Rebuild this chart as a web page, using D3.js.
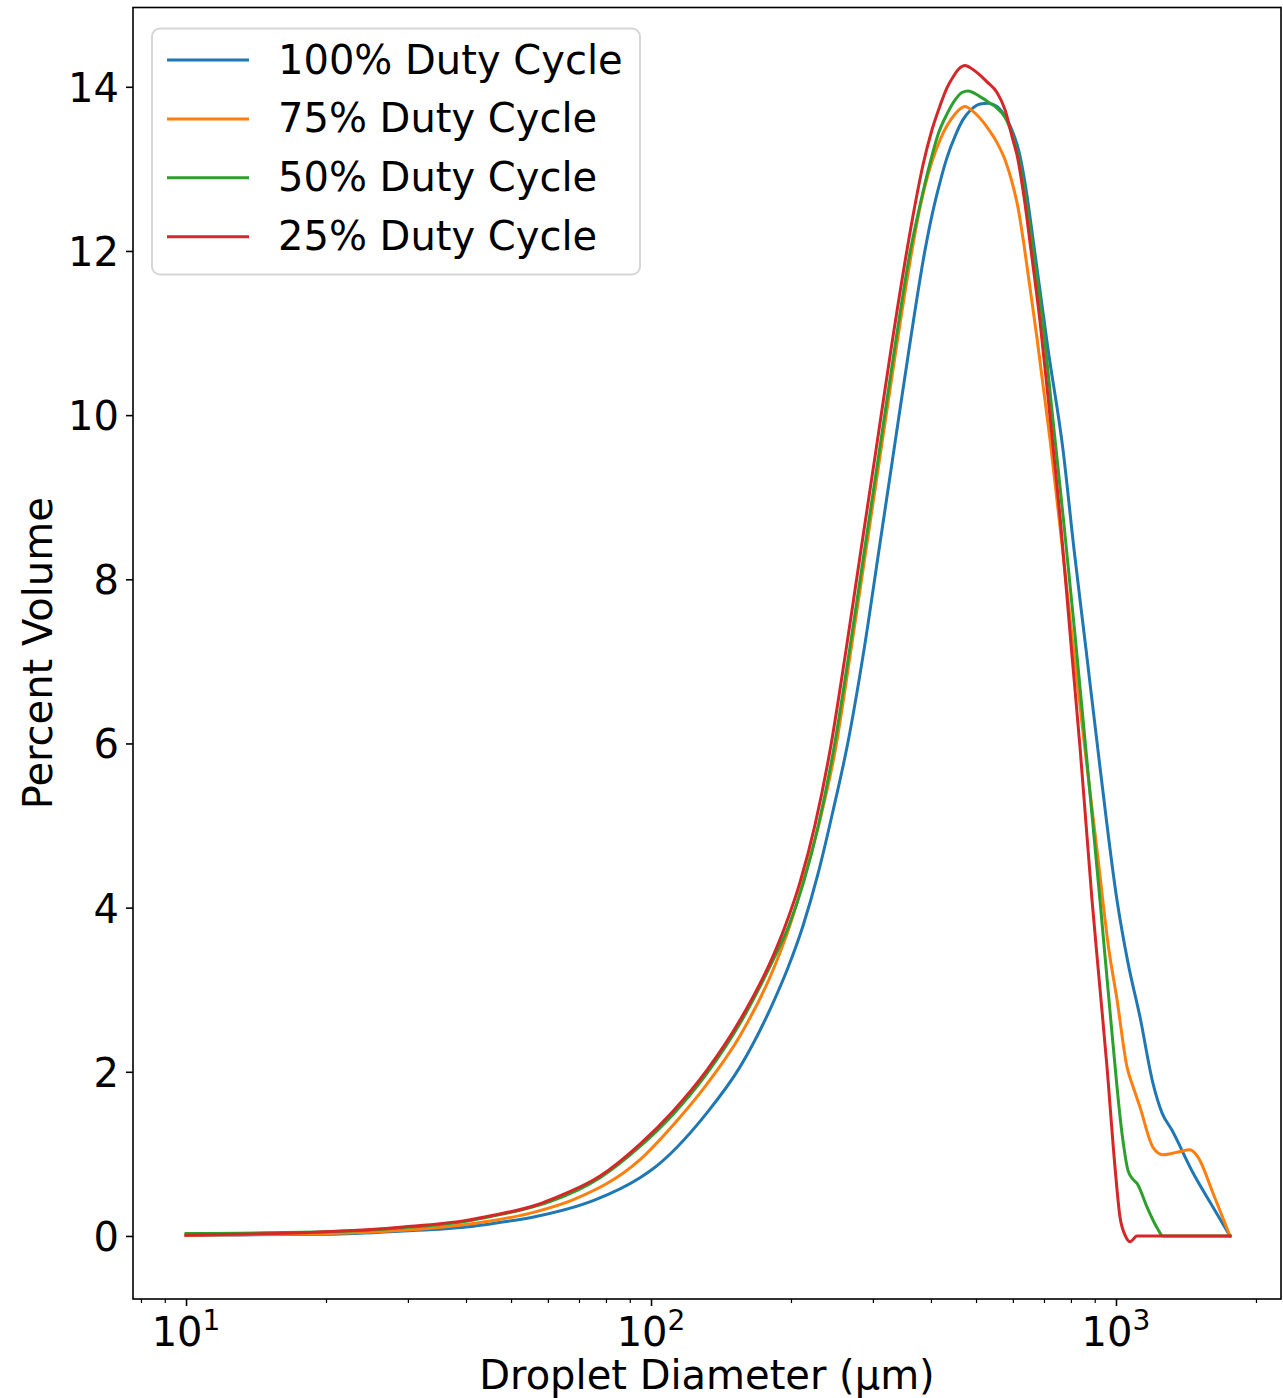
<!DOCTYPE html>
<html>
<head>
<meta charset="utf-8">
<script src="https://cdn.jsdelivr.net/npm/d3@7"></script>
<style>
  html, body { margin: 0; padding: 0; background: #ffffff; }
  svg { display: block; font-family: "DejaVu Sans", sans-serif; }
</style>
</head>
<body>
<svg id="chart" width="1283" height="1398"></svg>
<script>
// Droplet size distributions: [diameter (µm), percent volume]
const seriesNames = ["100% Duty Cycle", "75% Duty Cycle", "50% Duty Cycle", "25% Duty Cycle"];

const duty100 = [
  [10, 0.01], [20, 0.02], [29.3, 0.06], [40, 0.11], [45.5, 0.15], [56.9, 0.24],
  [75.8, 0.44], [94.7, 0.71], [100, 0.80], [131.9, 1.50], [155.4, 2.06], [183, 2.84],
  [197.1, 3.27], [212.3, 3.78], [228.6, 4.41], [246.3, 5.18], [265.3, 6.02], [287.1, 7.14],
  [309.3, 8.36], [333.1, 9.58], [358.8, 10.80], [388.4, 12.01], [402.2, 12.44],
  [418.4, 12.84], [433.2, 13.14], [450.8, 13.40], [468.8, 13.60], [487.7, 13.72],
  [510, 13.79], [530.6, 13.80], [554.8, 13.76], [580, 13.62], [600.5, 13.44],
  [618.6, 13.21], [640.6, 12.75], [663.2, 12.14], [714.3, 10.80], [769.2, 9.58],
  [812.5, 8.36], [862.3, 7.14], [923.9, 5.71], [1005, 4.09], [1061, 3.33], [1126, 2.67],
  [1201, 1.86], [1256, 1.50], [1319, 1.29], [1464, 0.77], [1617, 0.35], [1759, 0]
];

const duty75 = [
  [10, 0.01], [20, 0.03], [29.3, 0.07], [40, 0.14], [45.5, 0.185], [56.9, 0.30],
  [67.9, 0.44], [94.7, 0.93], [111.5, 1.35], [131.9, 1.85], [155.4, 2.44], [183, 3.24],
  [199.1, 3.79], [214.4, 4.40], [230.9, 5.07], [248.7, 5.90], [269.2, 7.14], [290, 8.36],
  [312.4, 9.58], [336.5, 10.80], [364.2, 12.01], [378.9, 12.53], [394.2, 12.93],
  [410.2, 13.23], [426.8, 13.46], [444.1, 13.62], [459.5, 13.72], [473.5, 13.76],
  [492.6, 13.70], [528, 13.51], [554.8, 13.32], [577.2, 13.11], [597.5, 12.84],
  [615.5, 12.53], [634.2, 12.07], [653.3, 11.55], [676.2, 10.94], [721.4, 9.70],
  [765.5, 8.42], [808.4, 7.20], [857.9, 5.92], [910.4, 4.70], [965.8, 3.48], [1005, 2.88],
  [1056, 2.06], [1088, 1.82], [1126, 1.57], [1201, 1.08], [1262, 0.99], [1353, 1.02],
  [1443, 1.05], [1501, 0.96], [1617, 0.52], [1759, 0]
];

const duty50 = [
  [10, 0.03], [20, 0.05], [29.3, 0.10], [40, 0.18], [45.5, 0.24], [56.9, 0.37],
  [60.6, 0.42], [77.7, 0.71], [94.7, 1.09], [111.5, 1.48], [131.9, 1.98], [155.4, 2.59],
  [183, 3.36], [197.6, 3.77], [212.9, 4.31], [229.2, 5.01], [246.8, 5.91], [267.3, 7.14],
  [287.9, 8.36], [310.1, 9.58], [333.9, 10.80], [361.4, 12.01], [378.9, 12.56],
  [398.1, 13.07], [414.3, 13.42], [433.2, 13.67], [450.8, 13.84], [466.5, 13.93],
  [480.5, 13.95], [510, 13.88], [535.8, 13.80], [554.8, 13.74], [577.2, 13.63],
  [600.5, 13.39], [618.6, 13.11], [640.6, 12.62], [663.2, 12.01], [696.6, 11.10],
  [731.9, 9.94], [773.1, 8.66], [816.4, 7.32], [862.3, 5.90], [923.9, 4.09], [980.4, 2.47],
  [1030.2, 1.25], [1061, 0.80], [1088, 0.69], [1109.8, 0.64], [1166.5, 0.35],
  [1225.5, 0.10], [1262.4, 0], [1759, 0]
];

const duty25 = [
  [10, 0.01], [20, 0.05], [29.3, 0.11], [40, 0.19], [45.5, 0.25], [56.9, 0.38],
  [60.6, 0.44], [77.7, 0.73], [94.7, 1.12], [111.5, 1.52], [131.9, 2.02], [155.4, 2.63],
  [183, 3.41], [194.2, 3.77], [209.2, 4.31], [225.3, 5.01], [242.6, 5.91], [262.7, 7.14],
  [282.9, 8.36], [304.8, 9.58], [328.2, 10.80], [355.2, 12.01], [369.6, 12.56],
  [384.6, 13.05], [402.2, 13.48], [418.4, 13.77], [433.2, 13.99], [446.2, 14.12],
  [459.5, 14.22], [473.5, 14.26], [492.6, 14.21], [528, 14.06], [554.8, 13.93],
  [577.2, 13.72], [600.5, 13.35], [612.5, 13.17], [635.6, 12.62], [656.5, 12.01],
  [686.5, 11.14], [721.4, 9.98], [758.1, 8.76], [802.3, 7.14], [836.9, 5.95], [888.1, 4.09],
  [923.9, 3.01], [956.4, 2.06], [995, 0.84], [1020, 0.23], [1046, 0.01], [1072, -0.07],
  [1110, 0], [1759, 0]
];

const seriesData = [duty100, duty75, duty50, duty25];
const seriesColors = ["#1f77b4", "#ff7f0e", "#2ca02c", "#d62728"];

const yTicks = [0, 2, 4, 6, 8, 10, 12, 14];
const xMajorTicks = [10, 100, 1000];
const xMajorExponents = ["1", "2", "3"];
const xMinorTicks = [8, 9, 20, 30, 40, 50, 60, 70, 80, 90, 200, 300, 400, 500, 600, 700, 800, 900, 2000];
const xTitle = "Droplet Diameter (μm)";
const yTitle = "Percent Volume";

// ---- layout ----
const plot = { left: 133, right: 1281, top: 7.5, bottom: 1299 };
const fontSize = 40;

const svg = d3.select("#chart");

const x = d3.scaleLog().domain([7.69, 2264]).range([plot.left, plot.right]);
const y = d3.scaleLinear().domain([-0.768, 14.966]).range([plot.bottom, plot.top]);

// ---- curves ----
const line = d3.line()
  .x(d => x(d[0]))
  .y(d => y(d[1]))
  .curve(d3.curveMonotoneX);

svg.append("g")
  .selectAll("path")
  .data(seriesData)
  .join("path")
  .attr("d", line)
  .attr("fill", "none")
  .attr("stroke", (d, i) => seriesColors[i])
  .attr("stroke-width", 3)
  .attr("stroke-linejoin", "round")
  .attr("stroke-linecap", "square");

// ---- x axis (log) ----
const xMajor = svg.append("g")
  .attr("transform", `translate(0,${plot.bottom})`)
  .call(d3.axisBottom(x).tickValues(xMajorTicks).tickSize(7).tickFormat(""));
xMajor.select(".domain").remove();
xMajor.selectAll(".tick line").attr("stroke", "#000").attr("stroke-width", 1.6);

const xMinor = svg.append("g")
  .attr("transform", `translate(0,${plot.bottom})`)
  .call(d3.axisBottom(x).tickValues(xMinorTicks).tickSize(4).tickFormat(""));
xMinor.select(".domain").remove();
xMinor.selectAll(".tick line").attr("stroke", "#000").attr("stroke-width", 1.2);

const xLabels = svg.append("g")
  .selectAll("text")
  .data(xMajorTicks)
  .join("text")
  .attr("x", d => x(d))
  .attr("y", plot.bottom + 47)
  .attr("text-anchor", "middle")
  .attr("font-size", fontSize)
  .attr("fill", "#000");
xLabels.append("tspan").text("10");
xLabels.append("tspan")
  .attr("dy", -16)
  .attr("font-size", 28)
  .text((d, i) => xMajorExponents[i]);

// ---- y axis ----
const yAxis = svg.append("g")
  .attr("transform", `translate(${plot.left},0)`)
  .call(d3.axisLeft(y).tickValues(yTicks).tickSize(7).tickPadding(7).tickFormat(d3.format("d")));
yAxis.select(".domain").remove();
yAxis.selectAll(".tick line").attr("stroke", "#000").attr("stroke-width", 1.6);
yAxis.selectAll(".tick text")
  .attr("font-size", fontSize)
  .attr("font-family", "DejaVu Sans, sans-serif")
  .attr("fill", "#000")
  .attr("dy", "0.36em");

// ---- frame ----
svg.append("rect")
  .attr("x", plot.left)
  .attr("y", plot.top)
  .attr("width", plot.right - plot.left)
  .attr("height", plot.bottom - plot.top)
  .attr("fill", "none")
  .attr("stroke", "#000")
  .attr("stroke-width", 1.6);

// ---- axis titles ----
svg.append("text")
  .attr("x", (plot.left + plot.right) / 2)
  .attr("y", 1389)
  .attr("text-anchor", "middle")
  .attr("font-size", fontSize)
  .attr("fill", "#000")
  .text(xTitle);

svg.append("text")
  .attr("transform", `translate(51.5,${(plot.top + plot.bottom) / 2}) rotate(-90)`)
  .attr("text-anchor", "middle")
  .attr("font-size", fontSize)
  .attr("fill", "#000")
  .text(yTitle);

// ---- legend ----
const legend = svg.append("g");
legend.append("rect")
  .attr("x", 152)
  .attr("y", 28.5)
  .attr("width", 488)
  .attr("height", 246)
  .attr("rx", 8)
  .attr("fill", "#fff")
  .attr("fill-opacity", 0.8)
  .attr("stroke", "#d6d6d6")
  .attr("stroke-width", 2);

const rows = legend.selectAll("g.row")
  .data(seriesNames)
  .join("g")
  .attr("class", "row")
  .attr("transform", (d, i) => `translate(0,${60 + i * 58.9})`);
rows.append("line")
  .attr("x1", 167).attr("x2", 249)
  .attr("y1", 0).attr("y2", 0)
  .attr("stroke", (d, i) => seriesColors[i])
  .attr("stroke-width", 3);
rows.append("text")
  .attr("x", 278)
  .attr("y", 13.5)
  .attr("font-size", fontSize)
  .attr("fill", "#000")
  .text(d => d);
</script>
</body>
</html>
